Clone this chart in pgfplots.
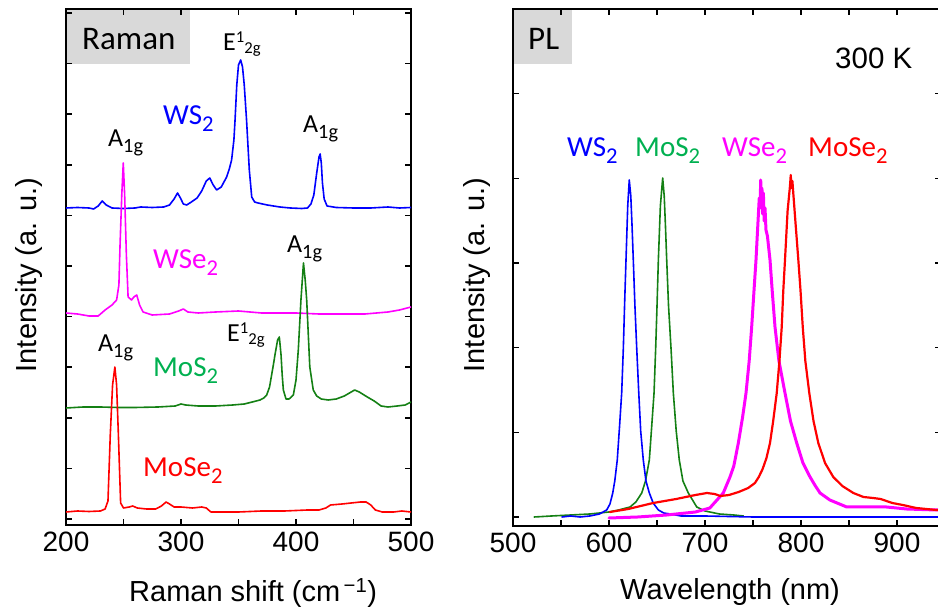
\documentclass[border=0pt]{standalone}
\usepackage{fontspec}
\setmainfont{Liberation Sans}
\newfontfamily\calfont{Carlito}
\usepackage{graphicx}
\usepackage{pgfplots}
\pgfplotsset{compat=1.18}
\definecolor{myblue}{RGB}{0,0,255}
\definecolor{mymag}{RGB}{255,0,255}
\definecolor{mygreen}{RGB}{20,128,20}
\definecolor{mylgreen}{RGB}{0,176,80}
\definecolor{myred}{RGB}{255,0,0}
\definecolor{boxgray}{RGB}{217,217,217}
\newcommand{\sbs}[1]{\raisebox{-0.22em}{\scalebox{0.78}{#1}}}
\newcommand{\Aog}{A\sbs{1g}}
\newcommand{\Etg}{E\raisebox{0.34em}{\scalebox{0.64}{1}}\raisebox{-0.08em}{\scalebox{0.64}{2g}}}
\pgfplotsset{myax/.style={scale only axis, anchor=south west,
  axis line style={line width=2pt}, tick style={line width=1.5pt, black},
  tick align=inside, major tick length=6pt, minor tick length=6pt,
  yticklabels={}, xticklabel style={font=\fontsize{28}{30}\selectfont, yshift=-3pt},
  /pgf/number format/assume math mode=true,
  every axis plot/.append style={line join=round, line cap=round}}}
\begin{document}
\begin{tikzpicture}[x=1pt,y=1pt]
\fill[boxgray] (66,546) rectangle (190,601);
\fill[boxgray] (513,546) rectangle (572,601);
\begin{axis}[myax, at={(66pt,85pt)}, width=345pt, height=516pt,
  xmin=200, xmax=500, ymin=0, ymax=516,
  xtick={200,300,400,500}, minor xtick={250,350,450},
  ytick={6,56.6,107.2,157.8,208.4,259,309.6,360.2,410.8,461.4,512}]
% WS2
\addplot[myblue, line width=1.6pt] coordinates {(200,317)(210,317.5)(220,317)(224,316)(228,319)(231.5,324)(235,320)(240,317)(250,316.5)(260,317)(265,318)(275,317.5)(285,318)(290,320)(294,326)(297,332)(299.5,327)(302,321)(305,320)(309,323)(314,327)(318,334)(322,344)(325,347)(328,340)(331,335)(335,338)(339.7,348)(342,356)(344,365)(346,385)(347,405)(348.5,440)(350,460)(351.9,465)(353.5,458)(355,440)(357,405)(359.4,355)(361.5,328)(364,323)(367,322)(375,320)(386,318)(395,317)(405,316.5)(410,317)(413,321)(415.5,330)(418,352)(420,368)(421,371)(422,362)(423,342)(424.5,326)(427,319)(435,317.5)(450,317)(465,317)(480,318)(490,317)(500,317.5)};
% WSe2
\addplot[mymag, line width=1.6pt] coordinates {(200,212)(210,211)(220,209)(228,209)(234,215)(240,220)(244,225)(246,240)(247,280)(248.5,330)(249.8,362)(251,330)(252.5,270)(254,228)(257,225)(259,228)(261.5,230)(264,220)(267,213)(275,210)(290,211)(298,214)(302,216)(306,213)(315,212)(330,213)(350,214)(370,212)(390,212)(400,212)(420,211)(440,211)(460,211)(480,213)(490,215)(500,218)};
% MoS2
\addplot[mygreen, line width=1.6pt] coordinates {(200,117)(215,118)(230,118)(245,117.5)(260,117.5)(280,118)(295,119)(300,121)(304,120)(315,119)(330,119)(345,120)(355,121)(362,123)(368.7,125)(372,127)(374.5,130)(377,138)(380,158)(382,172)(384,185)(385.5,188)(387,170)(388,150)(389,135)(391.3,126)(394,126)(397.7,130)(400,145)(402,175)(404.3,225)(406.5,262)(408,245)(409.3,225)(412,158)(415,135)(418,129)(422,126)(428,125)(435,126)(442,129)(448,133)(451,135)(455,133)(462,128)(468,124)(474,119)(480,118)(488,119)(495,120)(500,123)};
% MoSe2
\addplot[myred, line width=1.6pt] coordinates {(200,13)(210,14)(220,13.5)(230,14)(234,16)(236.5,24)(238.5,90)(240.5,140)(242.5,158)(244,140)(245.5,92)(247.5,22)(250,17)(255,18)(258,19)(262,17)(270,16)(278,16)(283,19)(287,23)(290,21)(294,18)(300,18)(310,17)(318,18)(322,17)(326,13)(335,13)(350,13)(370,14)(390,14)(410,15)(420,15)(426,17)(430,20)(440,21)(448,22)(456,23)(461,23)(465,20)(469,15)(475,13)(485,13)(492,14)(500,13)};
\end{axis}
\begin{axis}[myax, at={(513pt,84pt)}, width=428.2pt, height=517pt,
  xmin=500, xmax=946, ymin=0, ymax=517,
  xtick={500,600,700,800,900}, minor xtick={550,650,750,850},
  ytick={9,93.7,178.3,263,347.7,432.3,517}]
% MoS2 PL
\addplot[mygreen, line width=1.6pt] coordinates {(522,9)(540,10)(560,11)(580,12)(600,14)(610,16)(621.9,19)(628,24)(634.1,33)(638,45)(642,66)(644.5,100)(646.9,133)(648.6,177.5)(650,220)(651.4,266)(653.5,320)(655.9,348)(657.5,330)(658.8,300)(660.1,266)(662,220)(664.6,177.5)(667,133)(670,95)(673.2,66)(677,45)(682.6,33)(691.4,19)(700,15)(715,12)(730,11)(740,10)};
% WS2 PL
\addplot[myblue, line width=1.6pt] coordinates {(551,9)(560,10)(570,9)(580,10)(590,12)(597.6,16)(601,22)(603.9,33)(606,45)(608.6,66)(611,100)(613.2,133)(614.9,177)(616.5,230)(617.7,266)(619.5,320)(621.1,346)(622.7,330)(624,300)(625.3,266)(627,220)(628.9,177)(631,133)(633,95)(635.7,66)(638.5,45)(642,33)(646,23)(651.4,16)(657,13)(663.5,12)(675,10)(700,10)(750,9)(800,9)(850,9)(900,9)(946,9)};
% WSe2 PL
\addplot[mymag, line width=3pt] coordinates {(600,8)(630,9)(660,11)(690,14)(705,18)(719,33)(726,49)(730,60)(734.7,83)(739,108)(742.7,133)(746,165)(748.6,199)(751,235)(753.1,266)(755.5,310)(756.5,328)(757.3,318)(758,346)(758.7,322)(759.3,338)(760,312)(760.8,333)(761.6,305)(762.5,318)(763.5,296)(765,290)(767.7,266)(770,235)(772.9,199)(777,165)(783.3,133)(789,105)(795.5,83)(802,63)(809.4,49)(815,40)(819.8,33)(830,26)(847.6,19)(870,19)(889,19)(910,17)(941,16)(946,16)};
% MoSe2 PL
\addplot[myred, line width=2.2pt] coordinates {(601,14)(620,17)(646,23)(670,27)(690,31)(702,33)(710,32)(716,30)(725,31)(735,34)(745,38)(752,43)(756,49)(760,57)(764,68)(767.7,83)(771,105)(774.7,133)(777.5,165)(779.9,199)(781.5,235)(783.3,266)(786,315)(788.5,340)(789.3,351)(790,338)(791,345)(792,332)(794.5,300)(797.2,266)(799.5,235)(801.8,199)(804.5,165)(808.6,133)(813,105)(818,83)(825,63)(833.6,49)(843,40)(854.5,33)(865,29)(875,28)(883,27)(895,23)(906,21)(920,18)(941,16)(946,16)};
\end{axis}
% panel texts
\node[anchor=base west, inner sep=0, font=\calfont\fontsize{33}{36}\selectfont] at (82,560) {Raman};
\node[anchor=base west, inner sep=0, font=\calfont\fontsize{33}{36}\selectfont] at (528,560) {PL};
\node[anchor=base west, inner sep=0, font=\fontsize{29.5}{32}\selectfont] at (835,541) {300 K};
% Raman annotations
\begin{scope}[every node/.style={anchor=base west, inner sep=0}]
\node[font=\calfont\fontsize{26}{28}\selectfont] at (223,559) {\Etg};
\node[font=\calfont\fontsize{29}{32}\selectfont, text=myblue] at (163,485) {WS\sbs{2}};
\node[font=\calfont\fontsize{26}{28}\selectfont] at (108,463) {\Aog};
\node[font=\calfont\fontsize{26}{28}\selectfont] at (303,477) {\Aog};
\node[font=\calfont\fontsize{29}{32}\selectfont, text=mymag] at (153,341) {WSe\sbs{2}};
\node[font=\calfont\fontsize{26}{28}\selectfont] at (287,357) {\Aog};
\node[font=\calfont\fontsize{26}{28}\selectfont] at (227,268) {\Etg};
\node[font=\calfont\fontsize{29}{32}\selectfont, text=mylgreen] at (153,233) {MoS\sbs{2}};
\node[font=\calfont\fontsize{26}{28}\selectfont] at (98,258) {\Aog};
\node[font=\calfont\fontsize{29}{32}\selectfont, text=myred] at (143,133) {MoSe\sbs{2}};
% PL annotations
\node[font=\calfont\fontsize{29}{32}\selectfont, text=myblue] at (567,453) {WS\sbs{2}};
\node[font=\calfont\fontsize{29}{32}\selectfont, text=mylgreen] at (635,453) {MoS\sbs{2}};
\node[font=\calfont\fontsize{29}{32}\selectfont, text=mymag] at (722,453) {WSe\sbs{2}};
\node[font=\calfont\fontsize{29}{32}\selectfont, text=myred] at (808,453) {MoSe\sbs{2}};
% axis labels
\node[font=\fontsize{29}{32}\selectfont] at (129,8) {Raman shift (cm\textsuperscript{\,−1})};
\node[font=\fontsize{29}{32}\selectfont] at (620,10) {Wavelength (nm)};
\end{scope}
\node[font=\fontsize{29}{32}\selectfont, rotate=90, anchor=base, inner sep=0] at (36,335) {Intensity (a. u.)};
\node[font=\fontsize{29}{32}\selectfont, rotate=90, anchor=base, inner sep=0] at (484,335) {Intensity (a. u.)};
\pgfresetboundingbox
\useasboundingbox (0,0) rectangle (938,610);
\end{tikzpicture}
\end{document}
